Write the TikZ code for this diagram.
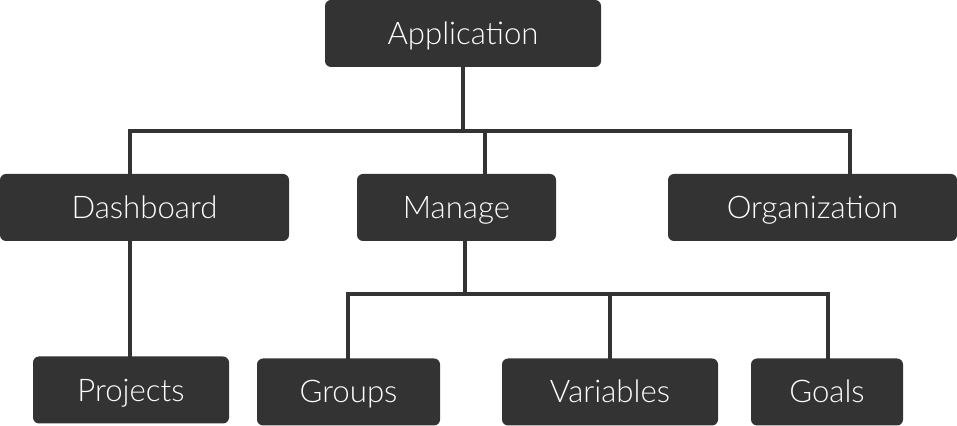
\documentclass[tikz,border=0pt]{standalone}
\usepackage{fontspec}
\setmainfont{Lato Light}
\usepackage{tikz}
\usetikzlibrary{positioning}

\definecolor{boxgray}{HTML}{333333}

\begin{document}
\begin{tikzpicture} [x=0.5pt, y=-0.5pt,
            box/.style = {fill=boxgray, rounded corners=3pt, text=white,
                minimum height=33.5pt, inner sep=0pt,
                text height=11pt, text depth=0pt,
                font=\fontsize{15.6}{18}\selectfont},
            link/.style = {draw=boxgray, line width=1.7pt, line cap=rect}]

        \useasboundingbox (0,0) rectangle (957,426);

        % Top level
        \node (app) [box, minimum width=138pt] at (463,33.5) {Application};

        % Second level
        \node (dash) [box, minimum width=144.5pt] at (144.5,207.5) {Dashboard};
        \node (manage) [box, minimum width=99.5pt] at (456.5,207.5) {Manage};
        \node (org) [box, minimum width=144.5pt] at (812.5,207.5) {Organization};

        % Third level
        \node (proj) [box, minimum width=98pt] at (131,390) {Projects};
        \node (groups) [box, minimum width=91.5pt] at (348.5,392) {Groups};
        \node (vars) [box, minimum width=108pt] at (610,392) {Variables};
        \node (goals) [box, minimum width=76pt] at (827,392) {Goals};

        % Bus points
        \coordinate (top-l) at (130,131);
        \coordinate (top-m) at (485,131);
        \coordinate (top-r) at (850,131);
        \coordinate (mid-l) at (348,294);
        \coordinate (mid-c) at (465,294);
        \coordinate (mid-v) at (610,294);
        \coordinate (mid-r) at (828,294);

        % Connectors
        \path [link]
            (app.south) -- (app.south |- top-l)
            (top-l) -- (top-r)
            (top-l) -- (top-l |- dash.north)
            (top-m) -- (top-m |- manage.north)
            (top-r) -- (top-r |- org.north)
            (top-l |- dash.south) -- (top-l |- proj.north)
            (mid-c |- manage.south) -- (mid-c)
            (mid-l) -- (mid-r)
            (mid-l) -- (mid-l |- groups.north)
            (mid-v) -- (mid-v |- vars.north)
            (mid-r) -- (mid-r |- goals.north)
            ;
\end{tikzpicture}
\end{document}
